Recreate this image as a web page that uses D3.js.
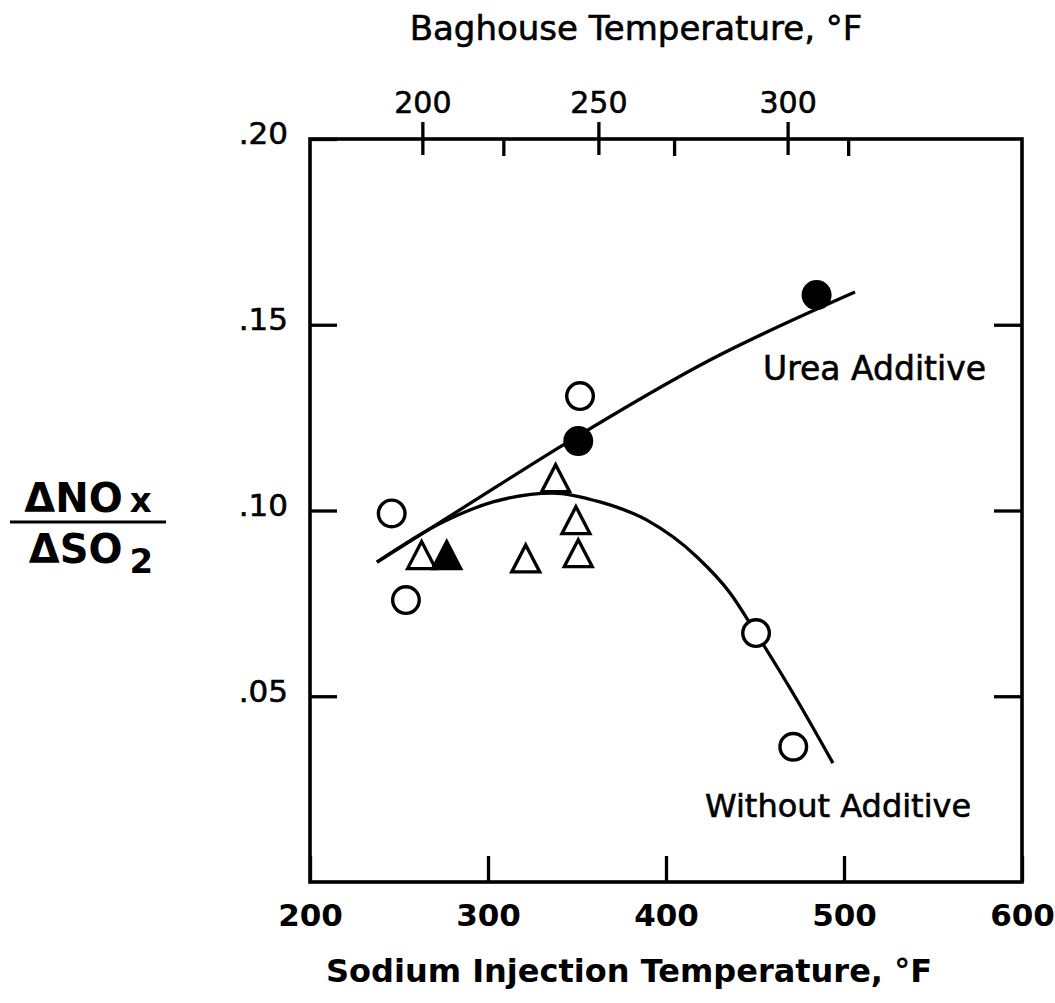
<!DOCTYPE html>
<html>
<head>
<meta charset="utf-8">
<script src="https://cdn.jsdelivr.net/npm/d3@7"></script>
<style>
  body { margin: 0; background: #fff; }
  text { font-family: "DejaVu Sans", sans-serif; fill: #000; }
  .heavy { stroke: #000; stroke-width: 0.6px; }
</style>
</head>
<body>
<svg id="chart"></svg>
<script>
// sodium injection temperature (F) vs dNOx/dSO2
var openCircles = [[245.9, 0.0992], [253.9, 0.0759], [351.7, 0.1308], [450.6, 0.0670], [471.5, 0.0364]];
var filledCircles = [[350.7, 0.1187], [484.6, 0.1580]];
var openTriangles = [[262.7, 0.0880], [321.2, 0.0871], [338.0, 0.1087], [349.4, 0.0974], [350.7, 0.0885]];
var filledTriangles = [[276.8, 0.0880]];

// fitted curves
var ureaLine = [[237.6, 0.0861], [289.9, 0.1019], [342.1, 0.1176], [424.7, 0.1405], [506.2, 0.1588]];
var noAdditiveLine = [[237.6, 0.0861], [274.7, 0.0969], [302.8, 0.1023], [336.5, 0.1047], [362.9, 0.1023],
  [389.3, 0.0974], [417.4, 0.0875], [436.0, 0.0778], [450.6, 0.0670], [473.6, 0.0490], [493.8, 0.0320]];

var xTicks = [200, 300, 400, 500, 600];
var yTicks = [0.05, 0.10, 0.15, 0.20];
var yTickLabels = [".05", ".10", ".15", ".20"];

// baghouse temperature vs sodium injection temperature
var baghouseTemps = [200, 250, 300];
var baghouseAtSodium = [263.4, 362.3, 468.6];
var baghouseMinor = [223, 270, 316];

var svgWidth = 1055, svgHeight = 1003;
var margin = { top: 139, right: 33, bottom: 121, left: 310 };

var svg = d3.select('#chart')
  .attr('width', svgWidth)
  .attr('height', svgHeight);

var x = d3.scaleLinear().domain([200, 600]).range([margin.left, svgWidth - margin.right]);
var y = d3.scaleLinear().domain([0, 0.2]).range([svgHeight - margin.bottom, margin.top]);
var bagToSodium = d3.scaleLinear().domain(baghouseTemps).range(baghouseAtSodium);
var xTop = t => x(bagToSodium(t));

var lw = 3.3;

// bottom axis
var bottom = svg.append('g')
  .attr('transform', `translate(0, ${y(0)})`)
  .call(d3.axisBottom(x).tickValues(xTicks).tickSize(-26).tickPadding(22));
bottom.select('.domain').remove();
bottom.selectAll('line').attr('stroke-width', lw);
bottom.selectAll('text')
  .style('font-size', '31px').style('font-weight', 'bold')
  .attr('dy', '0.71em');

// left and right axes
var left = svg.append('g')
  .attr('transform', `translate(${x(200)}, 0)`)
  .call(d3.axisLeft(y).tickValues(yTicks).tickSize(-27).tickPadding(22)
    .tickFormat((d, i) => yTickLabels[i]));
left.select('.domain').remove();
left.selectAll('line').attr('stroke-width', lw);
left.selectAll('text').attr('class', 'heavy').style('font-size', '31px').attr('dy', '0.16em');

var right = svg.append('g')
  .attr('transform', `translate(${x(600)}, 0)`)
  .call(d3.axisRight(y).tickValues(yTicks.slice(0, 3)).tickSize(-28).tickFormat(''));
right.select('.domain').remove();
right.selectAll('line').attr('stroke-width', lw);

// top axis (baghouse temperature)
var topAxis = svg.append('g')
  .attr('transform', `translate(0, ${y(0.2)})`);
topAxis.selectAll('line.major')
  .data(baghouseTemps)
  .enter().append('line')
  .attr('x1', xTop).attr('x2', xTop)
  .attr('y1', -17).attr('y2', 16)
  .attr('stroke', '#000').attr('stroke-width', lw);
topAxis.selectAll('line.minor')
  .data(baghouseMinor)
  .enter().append('line')
  .attr('x1', xTop).attr('x2', xTop)
  .attr('y1', 0).attr('y2', 17)
  .attr('stroke', '#000').attr('stroke-width', lw);
topAxis.selectAll('text')
  .data(baghouseTemps)
  .enter().append('text')
  .attr('class', 'heavy')
  .attr('x', xTop)
  .attr('y', -26)
  .attr('text-anchor', 'middle')
  .style('font-size', '30px')
  .text(d => d);

// plot frame
svg.append('rect')
  .attr('x', x(200)).attr('y', y(0.2))
  .attr('width', x(600) - x(200)).attr('height', y(0) - y(0.2))
  .attr('fill', 'none').attr('stroke', '#000').attr('stroke-width', 3.6);

// curves
var line = d3.line()
  .x(d => x(d[0]))
  .y(d => y(d[1]))
  .curve(d3.curveMonotoneX);

svg.append('path').datum(ureaLine)
  .attr('d', line).attr('fill', 'none').attr('stroke', '#000').attr('stroke-width', lw);
svg.append('path').datum(noAdditiveLine)
  .attr('d', line).attr('fill', 'none').attr('stroke', '#000').attr('stroke-width', lw);

// markers
var tri = 'M0,-13.5L14,13.5L-14,13.5Z';

svg.selectAll('path.otri')
  .data(openTriangles)
  .enter().append('path')
  .attr('class', 'otri')
  .attr('d', tri)
  .attr('transform', d => `translate(${x(d[0])}, ${y(d[1])})`)
  .attr('fill', '#fff').attr('stroke', '#000').attr('stroke-width', lw).attr('stroke-linejoin', 'miter');

svg.selectAll('path.ftri')
  .data(filledTriangles)
  .enter().append('path')
  .attr('class', 'ftri')
  .attr('d', tri)
  .attr('transform', d => `translate(${x(d[0])}, ${y(d[1])})`)
  .attr('fill', '#000').attr('stroke', '#000').attr('stroke-width', lw);

svg.selectAll('circle.open')
  .data(openCircles)
  .enter().append('circle')
  .attr('class', 'open')
  .attr('cx', d => x(d[0])).attr('cy', d => y(d[1]))
  .attr('r', 13.3)
  .attr('fill', '#fff').attr('stroke', '#000').attr('stroke-width', 3.4);

svg.selectAll('circle.filled')
  .data(filledCircles)
  .enter().append('circle')
  .attr('class', 'filled')
  .attr('cx', d => x(d[0])).attr('cy', d => y(d[1]))
  .attr('r', 15)
  .attr('fill', '#000');

// labels
svg.append('text')
  .attr('class', 'heavy')
  .attr('x', 763).attr('y', 380)
  .style('font-size', '33px')
  .text('Urea Additive');

svg.append('text')
  .attr('class', 'heavy')
  .attr('x', 705).attr('y', 817)
  .style('font-size', '32px')
  .text('Without Additive');

svg.append('text')
  .attr('x', 629).attr('y', 982)
  .attr('text-anchor', 'middle')
  .style('font-size', '32px').style('font-weight', 'bold')
  .text('Sodium Injection Temperature, °F');

svg.append('text')
  .attr('class', 'heavy')
  .attr('x', 636).attr('y', 40)
  .attr('text-anchor', 'middle')
  .style('font-size', '34px')
  .text('Baghouse Temperature, °F');

// y axis title as a fraction
var yTitle = svg.append('g');
var num = yTitle.append('text')
  .attr('x', 88).attr('y', 512)
  .attr('text-anchor', 'middle')
  .style('font-size', '40px').style('font-weight', 'bold');
num.append('tspan').text('ΔNO');
num.append('tspan').attr('dx', 7).style('font-size', '34px').text('x');
yTitle.append('line')
  .attr('x1', 10).attr('x2', 166)
  .attr('y1', 522).attr('y2', 522)
  .attr('stroke', '#000').attr('stroke-width', 3);
var den = yTitle.append('text')
  .attr('x', 91).attr('y', 563)
  .attr('text-anchor', 'middle')
  .style('font-size', '40px').style('font-weight', 'bold');
den.append('tspan').text('ΔSO');
den.append('tspan').attr('dx', 7).attr('dy', 10).style('font-size', '34px').text('2');
</script>
</body>
</html>
